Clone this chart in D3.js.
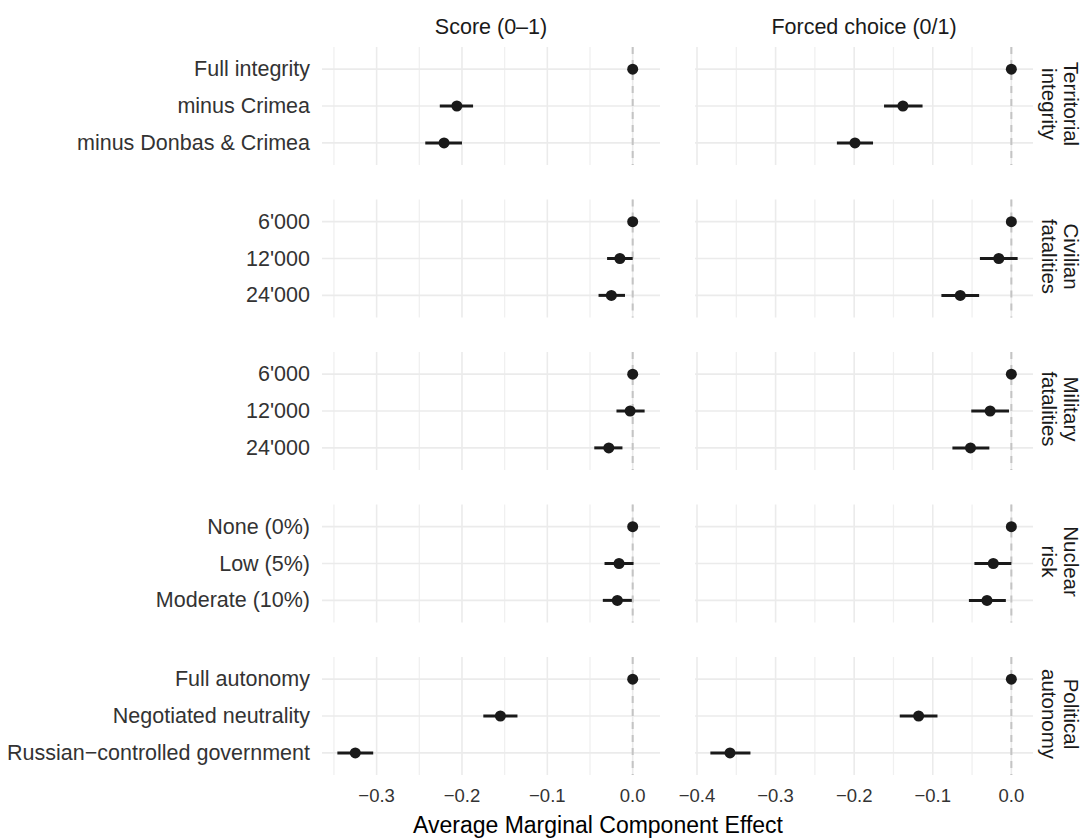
<!DOCTYPE html>
<html>
<head>
<meta charset="utf-8">
<script src="https://cdn.jsdelivr.net/npm/d3@7"></script>
<style>
  body { margin: 0; background: #fff; }
  svg { font-family: "Liberation Sans", Arial, Helvetica, sans-serif; }
</style>
</head>
<body>
<svg id="plot" width="1084" height="838"></svg>
<script>
// facet columns (outcomes) and rows (attributes)
const outcomes = ['Score (0\u20131)', 'Forced choice (0/1)'];
const stripLines = [
  ['Territorial', 'integrity'],
  ['Civilian', 'fatalities'],
  ['Military', 'fatalities'],
  ['Nuclear', 'risk'],
  ['Political', 'autonomy']
];
const levels = [
  ['Full integrity', 'minus Crimea', 'minus Donbas & Crimea'],
  ["6'000", "12'000", "24'000"],
  ["6'000", "12'000", "24'000"],
  ['None (0%)', 'Low (5%)', 'Moderate (10%)'],
  ['Full autonomy', 'Negotiated neutrality', 'Russian\u2212controlled government']
];

// AMCE estimates and 95% CIs, one value per level, rows in the order above
const scoreEst  = [0, -0.206, -0.221,  0, -0.015, -0.025,  0, -0.003, -0.028,  0, -0.016, -0.018,  0, -0.155, -0.325];
const scoreLow  = [0, -0.226, -0.243,  0, -0.030, -0.040,  0, -0.019, -0.045,  0, -0.033, -0.035,  0, -0.175, -0.346];
const scoreHigh = [0, -0.187, -0.200,  0,  0.000, -0.009,  0,  0.014, -0.012,  0,  0.001, -0.001,  0, -0.135, -0.304];

const forcedEst  = [0, -0.138, -0.199,  0, -0.016, -0.065,  0, -0.027, -0.052,  0, -0.023, -0.031,  0, -0.118, -0.358];
const forcedLow  = [0, -0.162, -0.222,  0, -0.040, -0.089,  0, -0.051, -0.075,  0, -0.047, -0.054,  0, -0.142, -0.383];
const forcedHigh = [0, -0.113, -0.176,  0,  0.008, -0.041,  0, -0.003, -0.028,  0,  0.000, -0.007,  0, -0.094, -0.332];

const xTicks = [
  [-0.3, -0.2, -0.1, 0],
  [-0.4, -0.3, -0.2, -0.1, 0]
];
const xTitle = 'Average Marginal Component Effect';

const series = [
  { est: scoreEst, low: scoreLow, high: scoreHigh },
  { est: forcedEst, low: forcedLow, high: forcedHigh }
];

// layout
const colLeft = [322, 695];
const panelW = 338;
const panelTop = 47;
const panelH = 118;
const panelStep = 152.5;

const svg = d3.select('#plot');
const ink = '#1a1a1a';

// free x scale per column, ggplot style 5% expansion
const xScales = series.map((s, c) => {
  const lo = d3.min(s.low), hi = d3.max(s.high);
  const pad = (hi - lo) * 0.05;
  return d3.scaleLinear()
    .domain([lo - pad, hi + pad])
    .range([colLeft[c], colLeft[c] + panelW]);
});

outcomes.forEach((title, c) => {
  svg.append('text')
    .attr('x', colLeft[c] + panelW / 2)
    .attr('y', 27)
    .attr('text-anchor', 'middle')
    .attr('dominant-baseline', 'central')
    .attr('fill', ink)
    .attr('font-size', 21.5)
    .text(title);
});

levels.forEach((lv, r) => {
  const top = panelTop + r * panelStep;
  const y = d3.scalePoint().domain(lv).range([top, top + panelH]).padding(0.6);

  // y labels (left only)
  svg.append('g')
    .selectAll('text')
    .data(lv)
    .join('text')
      .attr('x', 310)
      .attr('y', (d) => y(d))
      .attr('text-anchor', 'end')
      .attr('dominant-baseline', 'central')
      .attr('fill', '#333')
      .attr('font-size', 21.5)
      .text((d) => d);

  series.forEach((s, c) => {
    const x = xScales[c];
    const g = svg.append('g');
    const [d0, d1] = x.domain();
    const major = xTicks[c];
    const minor = d3.range(-0.45, 0.1, 0.1)
      .map((v) => Math.round(v * 100) / 100)
      .filter((v) => v >= d0 && v <= d1);

    g.selectAll('line.minor')
      .data(minor)
      .join('line')
        .attr('class', 'minor')
        .attr('x1', (d) => x(d)).attr('x2', (d) => x(d))
        .attr('y1', top).attr('y2', top + panelH)
        .attr('stroke', '#f0f0f0')
        .attr('stroke-width', 1.3);

    g.selectAll('line.major')
      .data(major)
      .join('line')
        .attr('class', 'major')
        .attr('x1', (d) => x(d)).attr('x2', (d) => x(d))
        .attr('y1', top).attr('y2', top + panelH)
        .attr('stroke', '#ebebeb')
        .attr('stroke-width', 1.6);

    g.selectAll('line.hgrid')
      .data(lv)
      .join('line')
        .attr('class', 'hgrid')
        .attr('x1', colLeft[c]).attr('x2', colLeft[c] + panelW)
        .attr('y1', (d) => y(d)).attr('y2', (d) => y(d))
        .attr('stroke', '#ebebeb')
        .attr('stroke-width', 1.6);

    g.append('line')
      .attr('x1', x(0)).attr('x2', x(0))
      .attr('y1', top).attr('y2', top + panelH)
      .attr('stroke', '#c4c4c4')
      .attr('stroke-width', 2)
      .attr('stroke-dasharray', '7,6');

    const rows = lv.map((d, i) => ({
      level: d,
      est: s.est[r * 3 + i],
      low: s.low[r * 3 + i],
      high: s.high[r * 3 + i]
    }));

    g.selectAll('line.ci')
      .data(rows)
      .join('line')
        .attr('class', 'ci')
        .attr('x1', (d) => x(d.low)).attr('x2', (d) => x(d.high))
        .attr('y1', (d) => y(d.level)).attr('y2', (d) => y(d.level))
        .attr('stroke', ink)
        .attr('stroke-width', 3);

    g.selectAll('circle')
      .data(rows)
      .join('circle')
        .attr('cx', (d) => x(d.est))
        .attr('cy', (d) => y(d.level))
        .attr('r', 5.5)
        .attr('fill', ink);
  });

  // strip on the right, rotated
  const strip = svg.append('g')
    .attr('transform', `translate(1054,${top + panelH / 2 - 2}) rotate(90)`);
  strip.selectAll('text')
    .data(stripLines[r])
    .join('text')
      .attr('x', 0)
      .attr('y', (d, i) => -10 + i * 22)
      .attr('text-anchor', 'middle')
      .attr('fill', ink)
      .attr('font-size', 20.5)
      .text((d) => d);
});

// bottom axes
xScales.forEach((x, c) => {
  svg.append('g')
    .selectAll('text')
    .data(xTicks[c])
    .join('text')
      .attr('x', (d) => x(d))
      .attr('y', 795)
      .attr('text-anchor', 'middle')
      .attr('dominant-baseline', 'central')
      .attr('fill', '#333')
      .attr('font-size', 18.5)
      .text((d) => d3.format('.1f')(d));
});

svg.append('text')
  .attr('x', 598)
  .attr('y', 825)
  .attr('text-anchor', 'middle')
  .attr('dominant-baseline', 'central')
  .attr('fill', '#000')
  .attr('font-size', 23)
  .text(xTitle);
</script>
</body>
</html>
